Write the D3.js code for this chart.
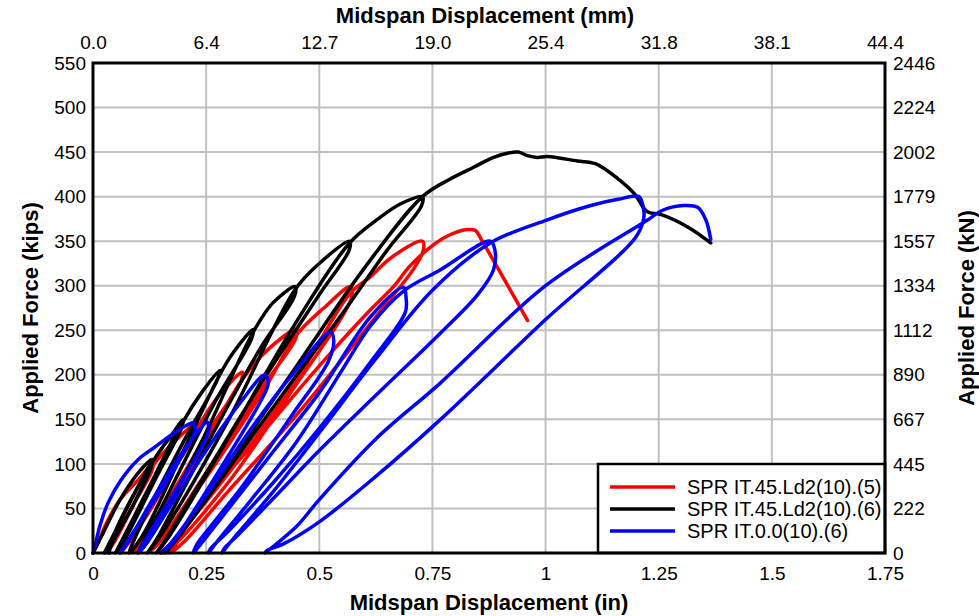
<!DOCTYPE html>
<html>
<head>
<meta charset="utf-8">
<script src="https://cdn.jsdelivr.net/npm/d3@7"></script>
<style>
  body { margin: 0; background: #fff; }
  text { font-family: "Liberation Sans", Arial, sans-serif; }
</style>
</head>
<body>
<div id="viz"></div>
<script>
// axis ticks
var inTicks = [0, 0.25, 0.5, 0.75, 1, 1.25, 1.5, 1.75];
var inLabels = ["0", "0.25", "0.5", "0.75", "1", "1.25", "1.5", "1.75"];
var mmLabels = ["0.0", "6.4", "12.7", "19.0", "25.4", "31.8", "38.1", "44.4"];
var kipTicks = [0, 50, 100, 150, 200, 250, 300, 350, 400, 450, 500, 550];
var kNLabels = ["0", "222", "445", "667", "890", "1112", "1334", "1557", "1779", "2002", "2224", "2446"];

var seriesNames = ["SPR IT.45.Ld2(10).(5)", "SPR IT.45.Ld2(10).(6)", "SPR IT.0.0(10).(6)"];
var seriesColors = ["#ff0000", "#000000", "#0000ff"];

// [displacement (in), force (kips)]
var redPts = [
    [0, 0], [0.01, 10], [0.03, 34], [0.06, 60], [0.1, 82], [0.133, 101],
    [0.13, 92], [0.09, 55], [0.05, 20], [0.03, 0],
    [0.05, 15], [0.1, 65], [0.135, 100], [0.18, 125], [0.23, 146],
    [0.228, 136], [0.18, 95], [0.11, 35], [0.06, 0],
    [0.08, 12], [0.15, 70], [0.23, 140], [0.28, 178], [0.33, 203],
    [0.327, 193], [0.26, 140], [0.16, 55], [0.09, 0],
    [0.11, 12], [0.2, 80], [0.33, 195], [0.39, 230], [0.45, 251],
    [0.448, 241], [0.38, 190], [0.25, 90], [0.14, 8], [0.12, 0],
    [0.14, 10], [0.25, 85], [0.38, 185], [0.45, 245], [0.51, 275], [0.569, 299],
    [0.572, 288], [0.55, 265], [0.45, 190], [0.3, 80], [0.17, 5], [0.15, 0],
    [0.17, 10], [0.3, 90], [0.45, 195], [0.569, 292], [0.613, 310], [0.66, 332], [0.728, 350],
    [0.73, 340], [0.71, 320], [0.62, 262], [0.45, 155], [0.3, 70], [0.2, 12], [0.17, 0],
    [0.19, 15], [0.215, 40], [0.35, 120], [0.5, 210], [0.613, 273], [0.664, 299],
    [0.7, 322], [0.745, 343], [0.78, 355], [0.827, 363], [0.845, 362], [0.86, 350], [0.96, 261]
];

var blackPts = [
    [0, 0], [0.02, 20], [0.06, 60], [0.1, 90], [0.13, 105],
    [0.125, 95], [0.08, 45], [0.03, 5], [0.025, 0],
    [0.04, 15], [0.09, 65], [0.13, 102],
    [0.127, 94], [0.085, 50], [0.04, 8], [0.035, 0],
    [0.05, 25], [0.1, 75], [0.135, 105], [0.17, 130], [0.2, 150],
    [0.195, 140], [0.14, 85], [0.07, 15], [0.05, 0],
    [0.065, 15], [0.13, 80], [0.198, 148],
    [0.194, 138], [0.14, 90], [0.08, 25], [0.06, 0],
    [0.08, 25], [0.14, 85], [0.2, 148], [0.24, 180], [0.28, 205],
    [0.275, 195], [0.2, 125], [0.1, 25], [0.08, 0],
    [0.11, 20], [0.2, 115], [0.28, 200], [0.31, 225], [0.354, 251],
    [0.35, 240], [0.27, 170], [0.15, 50], [0.1, 0],
    [0.13, 20], [0.24, 125], [0.354, 248], [0.398, 281], [0.447, 299],
    [0.445, 288], [0.37, 230], [0.25, 120], [0.14, 15], [0.12, 0],
    [0.15, 20], [0.3, 150], [0.447, 296], [0.5, 325], [0.567, 350],
    [0.566, 340], [0.5, 290], [0.376, 194], [0.25, 90], [0.16, 15], [0.14, 0],
    [0.17, 20], [0.3, 130], [0.45, 260], [0.567, 348], [0.63, 375], [0.68, 392], [0.728, 400],
    [0.726, 390], [0.65, 340], [0.55, 268], [0.436, 190], [0.3, 95], [0.2, 25], [0.16, 0],
    [0.19, 20], [0.3, 100], [0.45, 210], [0.6, 320], [0.728, 400],
    [0.79, 420], [0.841, 433], [0.885, 444], [0.918, 449], [0.94, 450], [0.96, 446],
    [0.982, 444], [1.004, 445], [1.07, 440], [1.11, 437], [1.16, 420], [1.195, 404],
    [1.225, 383], [1.254, 380], [1.314, 366], [1.365, 348]
];

var bluePts = [
    [0, 0], [0.004, 7], [0.015, 30], [0.033, 56], [0.062, 82], [0.1, 105], [0.137, 119],
    [0.18, 135], [0.21, 144], [0.221, 146],
    [0.226, 138], [0.2, 112], [0.15, 70], [0.1, 32], [0.07, 8], [0.06, 0],
    [0.075, 10], [0.12, 50], [0.18, 100], [0.23, 135], [0.252, 147],
    [0.256, 138], [0.23, 110], [0.17, 60], [0.12, 18], [0.1, 0],
    [0.12, 12], [0.18, 60], [0.25, 115], [0.32, 165], [0.38, 200],
    [0.387, 190], [0.37, 170], [0.3, 110], [0.22, 45], [0.17, 8], [0.15, 0],
    [0.17, 10], [0.25, 65], [0.35, 140], [0.44, 200], [0.525, 248],
    [0.532, 238], [0.52, 215], [0.44, 155], [0.33, 75], [0.26, 30], [0.23, 10], [0.222, 0],
    [0.235, 8], [0.3, 50], [0.4, 115], [0.5, 180], [0.613, 265], [0.686, 298],
    [0.692, 285], [0.69, 270], [0.613, 214], [0.5, 140], [0.4, 80], [0.3, 25], [0.26, 5], [0.255, 0],
    [0.27, 10], [0.35, 60], [0.45, 125], [0.55, 205], [0.613, 255], [0.686, 294],
    [0.768, 318], [0.878, 350],
    [0.888, 340], [0.885, 318], [0.85, 290], [0.768, 247], [0.625, 177], [0.5, 115],
    [0.4, 62], [0.32, 20], [0.29, 5], [0.285, 0],
    [0.3, 10], [0.4, 70], [0.5, 135], [0.625, 218], [0.75, 295], [0.878, 348],
    [1.004, 374], [1.1, 390], [1.16, 397], [1.206, 400],
    [1.215, 390], [1.217, 376], [1.2, 355], [1.0, 262], [0.768, 150], [0.625, 86],
    [0.5, 35], [0.42, 10], [0.385, 3], [0.38, 0],
    [0.395, 6], [0.45, 30], [0.5, 60], [0.625, 128], [0.768, 191], [1.0, 300],
    [1.22, 372], [1.26, 385], [1.305, 390], [1.336, 388], [1.354, 374], [1.365, 352]
];

var width = 979, height = 616;
var svg = d3.select('#viz').append('svg').attr('width', width).attr('height', height);

var x = d3.scaleLinear().domain([0, 1.75]).range([93, 885]);
var y = d3.scaleLinear().domain([0, 550]).range([553, 63]);

// grid
svg.append('g').selectAll('line.v')
    .data(inTicks).enter().append('line')
    .attr('x1', d => x(d)).attr('x2', d => x(d))
    .attr('y1', y(0)).attr('y2', y(550))
    .attr('stroke', '#c0c0c0').attr('stroke-width', 2);
svg.append('g').selectAll('line.h')
    .data(kipTicks).enter().append('line')
    .attr('x1', x(0)).attr('x2', x(1.75))
    .attr('y1', d => y(d)).attr('y2', d => y(d))
    .attr('stroke', '#c0c0c0').attr('stroke-width', 2);

// curves
var line = d3.line()
    .x(d => x(d[0]))
    .y(d => y(d[1]))
    .curve(d3.curveCatmullRom.alpha(0.5));

var allSeries = [redPts, blackPts, bluePts];
svg.append('g').selectAll('path')
    .data(allSeries).enter().append('path')
    .attr('d', line)
    .attr('fill', 'none')
    .attr('stroke', (d, i) => seriesColors[i])
    .attr('stroke-width', 3.5)
    .attr('stroke-linejoin', 'round')
    .attr('stroke-linecap', 'round');

// legend
var lg = svg.append('g');
lg.append('rect')
    .attr('x', 598).attr('y', 464).attr('width', 287).attr('height', 89)
    .attr('fill', '#fff').attr('stroke', '#000').attr('stroke-width', 2.5);
seriesNames.forEach(function(name, i) {
    var ly = 487 + i * 22;
    lg.append('line')
        .attr('x1', 610).attr('x2', 675).attr('y1', ly).attr('y2', ly)
        .attr('stroke', seriesColors[i]).attr('stroke-width', 3.5);
    lg.append('text')
        .attr('x', 687).attr('y', ly + 7)
        .attr('font-size', 20)
        .text(name);
});

// frame
svg.append('rect')
    .attr('x', x(0)).attr('y', y(550))
    .attr('width', x(1.75) - x(0)).attr('height', y(0) - y(550))
    .attr('fill', 'none').attr('stroke', '#000').attr('stroke-width', 3);

// axes
var fs = 19;
var axB = d3.axisBottom(x).tickValues(inTicks).tickFormat((d, i) => inLabels[i]).tickSize(0).tickPadding(14);
var axT = d3.axisTop(x).tickValues(inTicks).tickFormat((d, i) => mmLabels[i]).tickSize(0).tickPadding(14);
var axL = d3.axisLeft(y).tickValues(kipTicks).tickFormat(d => d).tickSize(0).tickPadding(7);
var axR = d3.axisRight(y).tickValues(kipTicks).tickFormat((d, i) => kNLabels[i]).tickSize(0).tickPadding(8);

[[axB, 'translate(0,553)'], [axT, 'translate(0,63)'], [axL, 'translate(93,0)'], [axR, 'translate(885,0)']]
    .forEach(function(a) {
        var g = svg.append('g').attr('transform', a[1]).call(a[0]);
        g.select('.domain').remove();
        g.selectAll('text').attr('font-size', fs).attr('fill', '#000')
            .style('font-family', '"Liberation Sans", Arial, sans-serif');
    });

// titles
svg.append('text').attr('x', 489).attr('y', 610).attr('text-anchor', 'middle')
    .attr('font-size', 22).attr('font-weight', 'bold').text('Midspan Displacement (in)');
svg.append('text').attr('x', 485).attr('y', 23).attr('text-anchor', 'middle')
    .attr('font-size', 22).attr('font-weight', 'bold').text('Midspan Displacement (mm)');
svg.append('text').attr('transform', 'translate(38,308) rotate(-90)').attr('text-anchor', 'middle')
    .attr('font-size', 22).attr('font-weight', 'bold').text('Applied Force (kips)');
svg.append('text').attr('transform', 'translate(974,308) rotate(-90)').attr('text-anchor', 'middle')
    .attr('font-size', 22).attr('font-weight', 'bold').text('Applied Force (kN)');
</script>
</body>
</html>
